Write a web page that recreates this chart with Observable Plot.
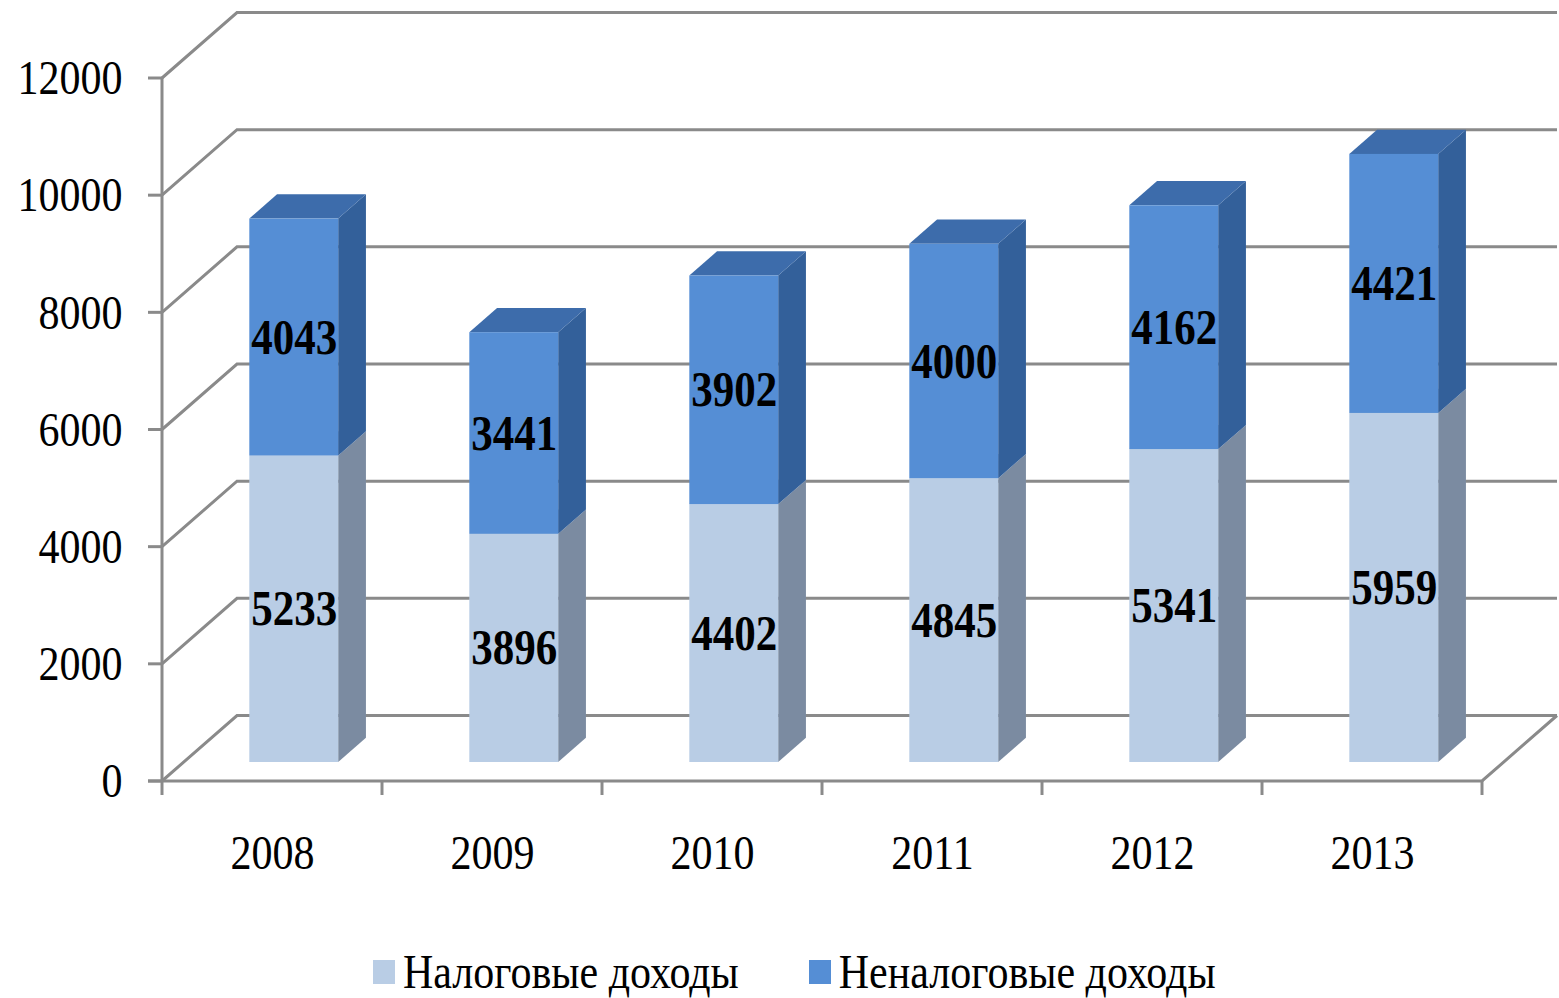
<!DOCTYPE html>
<html>
<head>
<meta charset="utf-8">
<script src="https://cdn.jsdelivr.net/npm/d3@7"></script>
<script src="https://cdn.jsdelivr.net/npm/@observablehq/plot@0.6"></script>
<style>
  html, body { margin: 0; padding: 0; background: #fff; }
  #chart { position: relative; width: 1559px; height: 998px; overflow: hidden; background: #fff; }
  #legend { position: absolute; left: 373px; top: 950px; height: 44px; display: flex; align-items: center;
            font-family: "Liberation Serif", "Times New Roman", serif; font-size: 42px; line-height: 1; color: #000; }
  #legend .item { display: flex; align-items: center; margin-right: 70px; }
  #legend .sw { width: 22px; height: 24px; margin-right: 8px; }
  #legend .lbl { display: inline-block; transform: scaleY(1.16); white-space: nowrap; line-height: 1; }
</style>
</head>
<body>
<div id="chart"></div>
<script>
// ---- data ----
const years = ["2008", "2009", "2010", "2011", "2012", "2013"];
const taxRevenue = [5233, 3896, 4402, 4845, 5341, 5959];        // Налоговые доходы
const nonTaxRevenue = [4043, 3441, 3902, 4000, 4162, 4421];     // Неналоговые доходы
const seriesNames = ["Налоговые доходы", "Неналоговые доходы"];
const yTicks = [0, 2000, 4000, 6000, 8000, 10000, 12000];

// ---- styles ----
const faceColors = [
  {front: "#b9cde5", side: "#7b8ba1", top: "#a3b8d2"},
  {front: "#558ed5", side: "#33609a", top: "#3d6cab"}
];
const gridColor = "#8a8a8a";
const FONT = '"Liberation Serif", "Times New Roman", serif';
const DEPTH = {dx: 75, dy: -65.5};  // full depth of the 3D box (pixels)
const F0 = 0.29, F1 = 0.66;          // bar front / back depth fractions
const BAR_FRAC = 0.404;              // bar width / band width

const rows = years.flatMap((year, i) => [
  {year, s: 0, lo: 0, hi: taxRevenue[i], value: taxRevenue[i]},
  {year, s: 1, lo: taxRevenue[i], hi: taxRevenue[i] + nonTaxRevenue[i], value: nonTaxRevenue[i]}
]);

const W = 1559, H = 940;
const marginLeft = 162, marginRight = 77, marginTop = 78, marginBottom = 159;
const bandW = (W - marginLeft - marginRight) / years.length;
const inset = bandW * (1 - BAR_FRAC) / 2;

const bw = (x) => typeof x.bandwidth === "function" ? x.bandwidth() : x.bandwidth;

// 3D walls, floor, grid & ticks
function wallsMark(index, {x, y}, values, dims) {
  const g = d3.create("svg:g").attr("fill", "none").attr("stroke", gridColor).attr("stroke-width", 3)
    .attr("stroke-linejoin", "miter");
  const left = dims.marginLeft, right = dims.width - dims.marginRight;
  for (const v of yTicks) {
    const y0 = y(v);
    g.append("path").attr("d", `M${left},${y0}L${left + DEPTH.dx},${y0 + DEPTH.dy}H${right + DEPTH.dx}`);
    g.append("path").attr("d", `M${left - 14},${y0}H${left}`);
  }
  const y0 = y(0);
  g.append("path").attr("d", `M${left - 14},${y0}H${right}L${right + DEPTH.dx},${y0 + DEPTH.dy}`);
  g.append("path").attr("d", `M${left},${y0}V${y(yTicks[yTicks.length - 1])}`);
  const xs = years.map(d => x(d)).concat([right]);
  for (const xx of xs) g.append("path").attr("d", `M${xx},${y0}V${y0 + 14}`);
  return g.node();
}

// side and top faces of the bar segments of one series
function facesMark(s) {
  return function (index, {x, y}) {
    const g = d3.create("svg:g");
    const b = bw(x);
    const barW = b * BAR_FRAC;
    const ox = F0 * DEPTH.dx, oy = F0 * DEPTH.dy;
    const ddx = (F1 - F0) * DEPTH.dx, ddy = (F1 - F0) * DEPTH.dy;
    for (const r of rows.filter(r => r.s === s)) {
      const xl = x(r.year) + (b - barW) / 2 + ox;
      const xr = xl + barW;
      const yb = y(r.lo) + oy, yt = y(r.hi) + oy;
      g.append("path").attr("fill", faceColors[s].side)
        .attr("d", `M${xr},${yb}L${xr},${yt}L${xr + ddx},${yt + ddy}L${xr + ddx},${yb + ddy}Z`);
      g.append("path").attr("fill", faceColors[s].top)
        .attr("d", `M${xl},${yt}L${xl + ddx},${yt + ddy}L${xr + ddx},${yt + ddy}L${xr},${yt}Z`);
    }
    return g.node();
  };
}

const frontBars = (s) => Plot.barY(rows.filter(r => r.s === s), {
  x: "year", y1: "lo", y2: "hi", fill: faceColors[s].front,
  insetLeft: inset, insetRight: inset, dx: F0 * DEPTH.dx, dy: F0 * DEPTH.dy
});

const chart = Plot.plot({
  width: W, height: H,
  marginLeft, marginRight, marginTop, marginBottom,
  style: {background: "#fff", overflow: "visible", fontFamily: FONT},
  x: {type: "band", domain: years, padding: 0, axis: null},
  y: {domain: [0, 12000], axis: null},
  marks: [
    wallsMark,
    facesMark(0),
    frontBars(0),
    facesMark(1),
    frontBars(1),
    Plot.text(rows, {
      x: "year", y: d => (d.lo + d.hi) / 2, text: d => String(d.value),
      dx: F0 * DEPTH.dx, dy: F0 * DEPTH.dy,
      fontWeight: "bold", fontSize: 43, fontFamily: FONT, fill: "#000"
    }),
    Plot.text(yTicks, {
      y: d => d, text: d => String(d), frameAnchor: "left", textAnchor: "end", dx: -40,
      fontSize: 42, fontFamily: FONT, fill: "#000"
    }),
    Plot.text(years, {
      x: d => d, text: d => d, frameAnchor: "bottom", dy: 85,
      fontSize: 42, fontFamily: FONT, fill: "#000"
    })
  ]
});

const container = document.getElementById("chart");
container.appendChild(chart);

// slight vertical stretch of the text, as in the reference
chart.querySelectorAll("text").forEach(t => {
  const b = t.getBBox();
  const cy = b.y + b.height / 2;
  const tr = t.getAttribute("transform") || "";
  t.setAttribute("transform", `${tr} translate(0,${cy}) scale(1,1.16) translate(0,${-cy})`);
});

// legend
const legend = document.createElement("div");
legend.id = "legend";
seriesNames.forEach((name, i) => {
  const item = document.createElement("div");
  item.className = "item";
  const sw = document.createElement("div");
  sw.className = "sw";
  sw.style.background = faceColors[i].front;
  const lbl = document.createElement("span");
  lbl.className = "lbl";
  lbl.textContent = name;
  item.appendChild(sw);
  item.appendChild(lbl);
  legend.appendChild(item);
});
container.appendChild(legend);
</script>
</body>
</html>
